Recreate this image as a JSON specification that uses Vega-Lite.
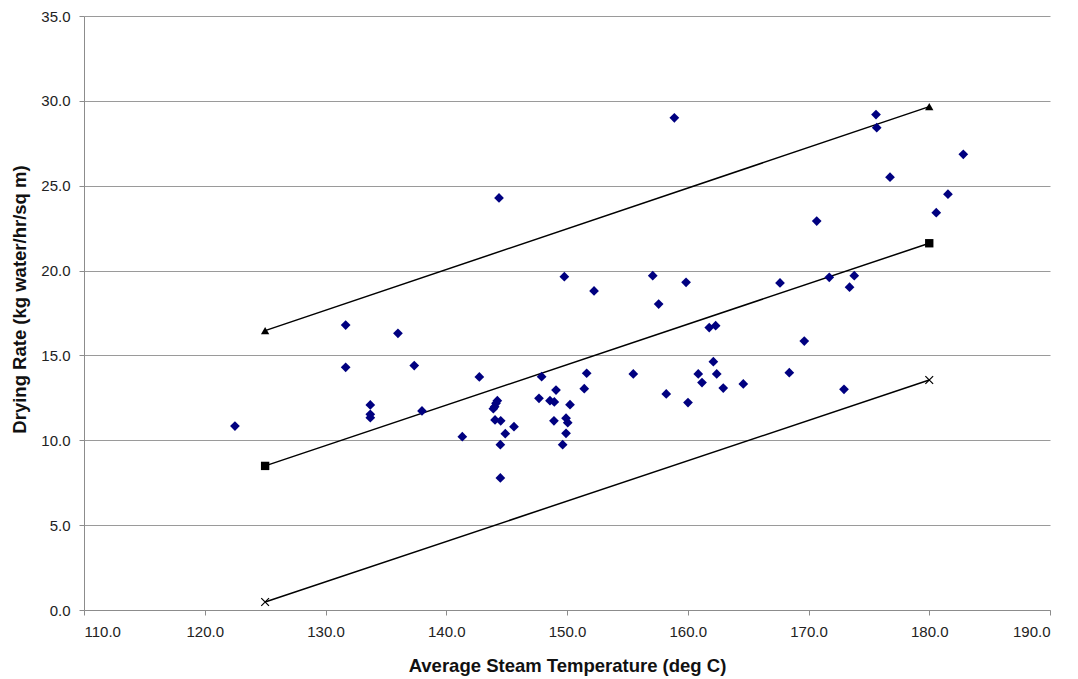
{
  "$schema": "https://vega.github.io/schema/vega-lite/v6.json",
  "width": 966,
  "height": 594,
  "autosize": {"type": "none"},
  "padding": {"left": 84, "top": 16, "right": 28, "bottom": 69},
  "background": "white",
  "config": {
    "view": {"stroke": null},
    "font": "Liberation Sans",
    "axis": {
      "labelFont": "Liberation Sans",
      "titleFont": "Liberation Sans",
      "labelFontSize": 15,
      "titleFontSize": 18.5,
      "titleFontWeight": "bold",
      "labelColor": "#222222",
      "titleColor": "#111111",
      "domainColor": "#8c8c8c",
      "tickColor": "#8c8c8c",
      "gridColor": "#9a9a9a",
      "tickSize": 5
    }
  },
  "datasets": {
    "pts": [
      {"t": 122.5, "v": 10.84}, {"t": 131.67, "v": 16.79}, {"t": 131.67, "v": 14.30},
      {"t": 133.71, "v": 12.08}, {"t": 133.71, "v": 11.53}, {"t": 133.71, "v": 11.33},
      {"t": 136.0, "v": 16.30}, {"t": 137.35, "v": 14.40}, {"t": 137.99, "v": 11.73},
      {"t": 141.33, "v": 10.21}, {"t": 142.74, "v": 13.73}, {"t": 143.90, "v": 11.86},
      {"t": 144.01, "v": 11.98}, {"t": 144.12, "v": 12.18}, {"t": 144.23, "v": 12.33},
      {"t": 144.04, "v": 11.20}, {"t": 144.51, "v": 11.15}, {"t": 144.37, "v": 24.28},
      {"t": 144.48, "v": 9.74}, {"t": 144.48, "v": 7.78}, {"t": 144.89, "v": 10.39},
      {"t": 145.61, "v": 10.80}, {"t": 147.68, "v": 12.47}, {"t": 147.90, "v": 13.75},
      {"t": 148.59, "v": 12.33}, {"t": 148.95, "v": 12.26}, {"t": 149.09, "v": 12.96},
      {"t": 148.92, "v": 11.15}, {"t": 149.64, "v": 9.74}, {"t": 149.78, "v": 19.64},
      {"t": 149.92, "v": 11.30}, {"t": 150.06, "v": 11.04}, {"t": 149.92, "v": 10.41},
      {"t": 150.25, "v": 12.10}, {"t": 151.43, "v": 13.04}, {"t": 151.63, "v": 13.95},
      {"t": 152.24, "v": 18.80}, {"t": 155.49, "v": 13.91}, {"t": 157.10, "v": 19.70},
      {"t": 157.59, "v": 18.03}, {"t": 158.22, "v": 12.73}, {"t": 158.89, "v": 29.00},
      {"t": 159.86, "v": 19.31}, {"t": 160.02, "v": 12.22}, {"t": 160.87, "v": 13.91},
      {"t": 161.18, "v": 13.40}, {"t": 161.78, "v": 16.64}, {"t": 162.31, "v": 16.75},
      {"t": 162.12, "v": 14.63}, {"t": 162.40, "v": 13.91}, {"t": 162.94, "v": 13.08},
      {"t": 164.60, "v": 13.32}, {"t": 167.64, "v": 19.27}, {"t": 168.41, "v": 13.98},
      {"t": 169.65, "v": 15.85}, {"t": 170.68, "v": 22.92}, {"t": 171.72, "v": 19.60},
      {"t": 172.94, "v": 13.00}, {"t": 173.4, "v": 19.02}, {"t": 173.79, "v": 19.70},
      {"t": 175.59, "v": 29.19}, {"t": 175.65, "v": 28.42}, {"t": 176.75, "v": 25.50},
      {"t": 180.58, "v": 23.41}, {"t": 181.55, "v": 24.50}, {"t": 182.82, "v": 26.85}
    ],
    "lines": [
      {"t": 125, "v": 16.46, "line": "upper"}, {"t": 180, "v": 29.66, "line": "upper"},
      {"t": 125, "v": 8.49, "line": "center"}, {"t": 180, "v": 21.61, "line": "center"},
      {"t": 125, "v": 0.47, "line": "lower"}, {"t": 180, "v": 13.55, "line": "lower"}
    ]
  },
  "encoding": {
    "x": {
      "field": "t", "type": "quantitative",
      "scale": {"domain": [110, 190], "nice": false, "zero": false},
      "axis": {
        "title": "Average Steam Temperature (deg C)",
        "values": [110, 120, 130, 140, 150, 160, 170, 180, 190],
        "format": ".1f", "grid": false, "labelPadding": 9, "titlePadding": 17
      }
    },
    "y": {
      "field": "v", "type": "quantitative",
      "scale": {"domain": [0, 35], "nice": false},
      "axis": {
        "title": "Drying Rate (kg water/hr/sq m)",
        "values": [0, 5, 10, 15, 20, 25, 30, 35],
        "format": ".1f", "grid": true, "labelPadding": 9, "titlePadding": 11,
        "titleY": 283
      }
    }
  },
  "layer": [
    {
      "data": {"name": "lines"},
      "mark": {"type": "line", "color": "black", "strokeWidth": 1.5},
      "encoding": {"detail": {"field": "line"}}
    },
    {
      "data": {"name": "lines"},
      "transform": [{"filter": "datum.line === 'upper'"}],
      "mark": {"type": "point", "shape": "triangle-up", "filled": true, "color": "black", "opacity": 1, "size": 70}
    },
    {
      "data": {"name": "lines"},
      "transform": [{"filter": "datum.line === 'center'"}],
      "mark": {"type": "point", "shape": "square", "filled": true, "color": "black", "opacity": 1, "size": 70}
    },
    {
      "data": {"name": "lines"},
      "transform": [{"filter": "datum.line === 'lower'"}],
      "mark": {"type": "point", "shape": "M-1,-1L1,1M-1,1L1,-1", "filled": false, "color": "black", "opacity": 1, "size": 60, "strokeWidth": 1.2}
    },
    {
      "data": {"name": "pts"},
      "mark": {"type": "point", "shape": "diamond", "filled": true, "color": "#000080", "opacity": 1, "size": 95}
    }
  ]
}
